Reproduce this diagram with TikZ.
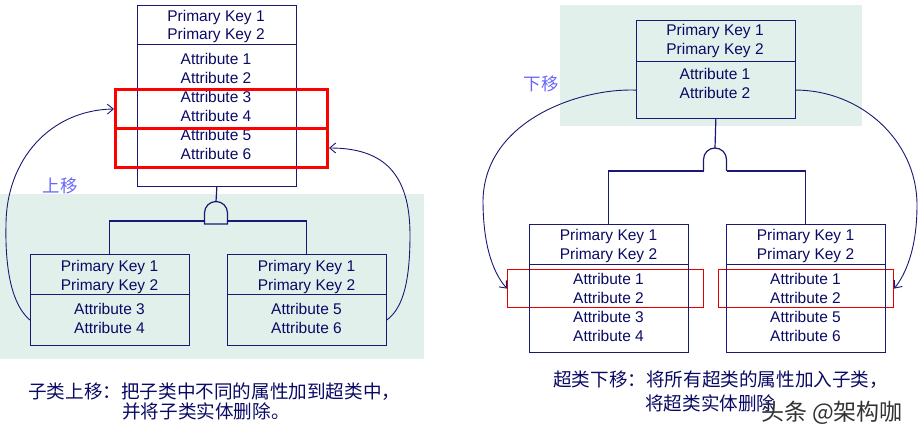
\documentclass[tikz,border=0pt]{standalone}
\usepackage{fontspec}
\setmainfont{Liberation Sans}
\newfontfamily\cjk{Noto Sans CJK SC}
\usetikzlibrary{arrows.meta}
\definecolor{navyline}{RGB}{25,25,115}
\definecolor{navytext}{RGB}{10,10,100}
\definecolor{shadecol}{RGB}{226,240,236}
\definecolor{movecol}{RGB}{102,102,250}
\definecolor{wmark}{RGB}{50,50,50}
\newcommand\txtlines[5]{\foreach \s [count=\i] in {#5} \node[txt] (#4-\i) at (#1,{#2+#3*(\i-1)}) {\s};}
\begin{document}
\begin{tikzpicture}[x=1pt,y=-1pt,
  sec/.style={draw=navyline, line width=1.2pt, inner sep=0pt, anchor=north west, minimum width=158.5pt},
  txt/.style={anchor=base, inner sep=0pt, text=navytext, font=\fontsize{15.5}{19}\selectfont},
  redthick/.style={draw=red, line width=3pt, inner sep=0pt, anchor=north west},
  redthin/.style={draw=red!90!black, line width=1.2pt, inner sep=0pt, anchor=north west},
  ln/.style={draw=navyline, line width=1.2pt},
  curve/.style={draw=navyline, line width=0.9pt, -{Straight Barb[length=6pt,width=10pt]}},
  movelbl/.style={text=movecol, font=\cjk\fontsize{17.5}{20}\selectfont, inner sep=0pt},
  captxt/.style={text=navytext, font=\cjk\fontsize{18.6}{22}\selectfont, inner sep=0pt, anchor=west}
]
\path[use as bounding box] (0,0) rectangle (918,438);
% shaded areas
\fill[shadecol] (0,194) rectangle (424,359);
\fill[shadecol] (560,5) rectangle (862,126);

% ===== left diagram =====
\node[sec, minimum height=39pt] (ltK) at (137,5) {};
\node[sec, minimum height=142pt] (ltA) at (137,44) {};
\node[sec, minimum height=40pt] (lbK) at (30,254) {};
\node[sec, minimum height=51pt] (lbA) at (30,294) {};
\node[sec, minimum height=40pt] (rbK) at (227,254) {};
\node[sec, minimum height=51pt] (rbA) at (227,294) {};

\txtlines{216}{21.7}{18}{ltk}{Primary Key 1,Primary Key 2}
\txtlines{216}{65}{19}{lta}{Attribute 1,Attribute 2,Attribute 3,Attribute 4,Attribute 5,Attribute 6}
\txtlines{109.5}{271.7}{18.5}{lbk}{Primary Key 1,Primary Key 2}
\txtlines{109.5}{315}{19}{lba}{Attribute 3,Attribute 4}
\txtlines{306.5}{271.7}{18.5}{rbk}{Primary Key 1,Primary Key 2}
\txtlines{306.5}{315}{19}{rba}{Attribute 5,Attribute 6}

\node[redthick, minimum width=212pt, minimum height=39pt] (red1) at (114,88) {};
\node[redthick, minimum width=212pt, minimum height=39pt] (red2) at (114,127) {};

% gate
\coordinate (gLt) at (216,201.5);
\coordinate (gLl) at (204.5,221);
\coordinate (gLr) at (227.5,221);
\draw[ln] (204.5,224) -- (204.5,213) arc[start angle=180,end angle=360,radius=11.5] -- (227.5,224) -- cycle;
\draw[ln] (ltA.south) -- (gLt);
\draw[ln] (lbK.north) |- (gLl);
\draw[ln] (rbK.north) |- (gLr);

% curves
\draw[curve] (lbA.west) .. controls (12,305) and (5,270) .. (6,225) .. controls (6,160) and (50,110) .. (red1.west);
\draw[curve] (rbA.east) .. controls (400,310) and (410,290) .. (410,235) .. controls (410,175) and (385,148) .. (red2.east);

\node[movelbl] (up) at (60,186) {上移};

\node[captxt] (capL1) at (28,392) {子类上移：把子类中不同的属性加到超类中，};
\node[captxt] (capL2) at (122,411) {并将子类实体删除。};

% ===== right diagram =====
\node[sec, minimum height=41pt] (rtK) at (636,20) {};
\node[sec, minimum height=57pt] (rtA) at (636,61) {};
\node[sec, minimum height=40pt] (s1K) at (529,224) {};
\node[sec, minimum height=88pt] (s1A) at (529,264) {};
\node[sec, minimum height=40pt] (s2K) at (726,224) {};
\node[sec, minimum height=88pt] (s2A) at (726,264) {};

\node[redthin, minimum width=196pt, minimum height=38pt] (red3) at (507,269) {};
\node[redthin, minimum width=175pt, minimum height=38pt] (red4) at (718,269) {};

% redraw box borders on top of the thin red frames
\node[sec, minimum height=88pt] at (529,264) {};
\node[sec, minimum height=88pt] at (726,264) {};

\txtlines{715}{36}{19}{rtk}{Primary Key 1,Primary Key 2}
\txtlines{715}{80}{19}{rta}{Attribute 1,Attribute 2}
\txtlines{608.5}{240.7}{18.6}{s1k}{Primary Key 1,Primary Key 2}
\txtlines{608.5}{284}{19}{s1a}{Attribute 1,Attribute 2,Attribute 3,Attribute 4}
\txtlines{805.5}{240.7}{18.6}{s2k}{Primary Key 1,Primary Key 2}
\txtlines{805.5}{284}{19}{s2a}{Attribute 1,Attribute 2,Attribute 5,Attribute 6}

\coordinate (gRt) at (715,148);
\coordinate (gRl) at (703.5,171);
\coordinate (gRr) at (726.5,171);
\draw[ln] (703.5,171) -- (703.5,159.5) arc[start angle=180,end angle=360,radius=11.5] -- (726.5,171);
\draw[ln] (rtA.south) -- (gRt);
\draw[ln] (s1K.north) |- (gRl);
\draw[ln] (s2K.north) |- (gRr);

\draw[curve] (rtA.west) .. controls (580,88) and (485,120) .. (483,200) .. controls (483,250) and (495,275) .. (red3.west);
\draw[curve] (rtA.east) .. controls (860,90) and (917,140) .. (917,205) .. controls (917,250) and (905,275) .. (red4.east);

\node[movelbl] (down) at (541,83.5) {下移};

\node[captxt] (capR1) at (553,380) {超类下移：将所有超类的属性加入子类，};
\node[captxt] (capR2) at (645,403) {将超类实体删除};

\node[text=wmark, font=\cjk\fontsize{23}{26}\selectfont, inner sep=0pt] (wm) at (832,413) {头条 @架构咖};
\end{tikzpicture}
\end{document}
